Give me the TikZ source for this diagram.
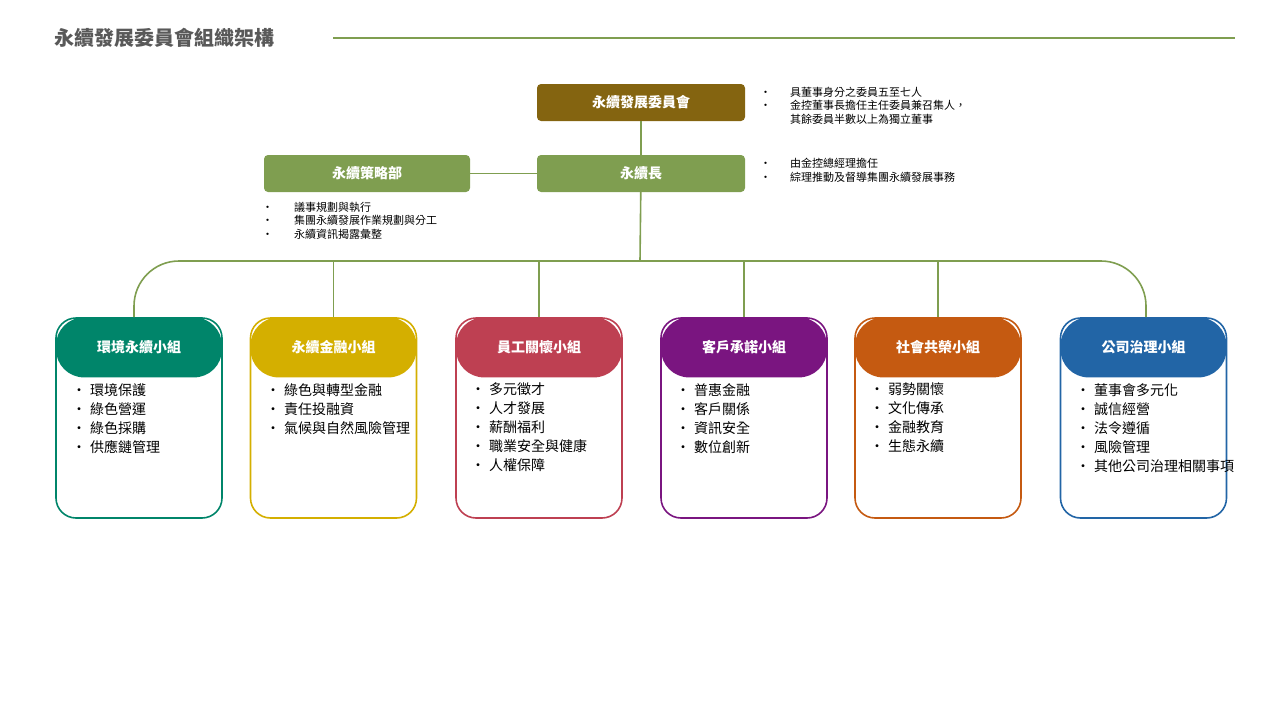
\documentclass[tikz,border=0pt]{standalone}
\usepackage{fontspec}
\setmainfont{Noto Sans CJK TC}
\newfontfamily\cjkb[BoldFont={Noto Sans CJK TC Bold}]{Noto Sans CJK TC}
\definecolor{tgray}{HTML}{595959}
\definecolor{brn}{HTML}{846410}
\definecolor{grn}{HTML}{7F9E50}
\definecolor{cA}{HTML}{00856A}
\definecolor{cB}{HTML}{D4AF00}
\definecolor{cC}{HTML}{BE4052}
\definecolor{cD}{HTML}{7A1580}
\definecolor{cE}{HTML}{C55A11}
\definecolor{cF}{HTML}{2265A6}
\tikzset{
 topbox/.style={rounded corners=4pt,minimum width=208pt,minimum height=37pt,text=white,font=\fontsize{14}{16}\selectfont\bfseries,inner sep=0pt},
 con/.style={grn,line width=1.6pt},
 note/.style={font=\fontsize{11}{13.5}\selectfont,align=left,anchor=north west,inner sep=0pt},
 body/.style={draw=#1,line width=1.6pt,rounded corners=20pt,fill=white,minimum width=166pt,minimum height=200pt,inner sep=0pt},
 head/.style={fill=#1,rounded corners=28pt,minimum width=166pt,minimum height=60pt,text=white,font=\fontsize{14}{16}\selectfont\bfseries,inner sep=0pt},
 items/.style={font=\fontsize{14}{19}\selectfont,align=left,anchor=north west,inner sep=0pt,text width=132pt},
}
\newcommand{\bl}[1]{\makebox[18pt][l]{•}\parbox[t]{118pt}{#1}\\}
\begin{document}
\begin{tikzpicture}[x=1pt,y=-1pt]
\useasboundingbox (0,0) rectangle (1280,720);
\node[anchor=west,text=tgray,font=\fontsize{20}{22}\selectfont\bfseries,inner sep=0pt] (title) at (54,38) {永續發展委員會組織架構};
\coordinate (tl) at (1235,38);
\draw[grn,line width=1.5pt] (333,38) -- (tl);
\node[topbox,fill=brn] (comm) at (641,102.5) {永續發展委員會};
\node[topbox,fill=grn] (chief) at (641,173.5) {永續長};
\node[topbox,fill=grn,minimum width=206pt] (strat) at (367,173.5) {永續策略部};
\draw[con] (comm) -- (chief);
\draw[con] (strat) -- (chief);
\node[note] (n1) at (760,87) {\makebox[30pt][l]{•}具董事身分之委員五至七人\\\makebox[30pt][l]{•}金控董事長擔任主任委員兼召集人，\\\makebox[30pt][l]{}其餘委員半數以上為獨立董事};
\node[note] (n2) at (760,158) {\makebox[30pt][l]{•}由金控總經理擔任\\\makebox[30pt][l]{•}綜理推動及督導集團永續發展事務};
\node[note] (n3) at (262,202) {\makebox[32pt][l]{•}議事規劃與執行\\\makebox[32pt][l]{•}集團永續發展作業規劃與分工\\\makebox[32pt][l]{•}永續資訊揭露彙整};
% groups
\foreach \n/\x/\c/\t in {A/139/cA/環境永續小組,B/333.5/cB/永續金融小組,C/539/cC/員工關懷小組,D/744/cD/客戶承諾小組,E/938/cE/社會共榮小組,F/1143.5/cF/公司治理小組}{
  \node[body=\c] (b\n) at (\x,418) {};
  \node[head=\c,anchor=north] (h\n) at (b\n.north) {\t};
}
\coordinate (bus) at (640,261);
\draw[con] (chief) -- (bus);
\draw[con,rounded corners=45pt] (hA.north -| 134,0) -- (134,261) -- (1146,261) -- (hF.north -| 1146,0);
\foreach \n in {B,C,D,E}{\draw[con] (hA.north -| h\n.north) ++(0,-57) -- (h\n.north);}
\node[items] (iA) at (72,383) {\bl{環境保護}\bl{綠色營運}\bl{綠色採購}\bl{供應鏈管理}};
\node[items] (iB) at (266,383) {\bl{綠色與轉型金融}\bl{責任投融資}\bl{氣候與自然風險管理}};
\node[items] (iC) at (471,383) {\bl{多元徵才}\bl{人才發展}\bl{薪酬福利}\bl{職業安全與健康}\bl{人權保障}};
\node[items] (iD) at (676,383) {\bl{普惠金融}\bl{客戶關係}\bl{資訊安全}\bl{數位創新}};
\node[items] (iE) at (870,383) {\bl{弱勢關懷}\bl{文化傳承}\bl{金融教育}\bl{生態永續}};
\node[items] (iF) at (1076,383) {\bl{董事會多元化}\bl{誠信經營}\bl{法令遵循}\bl{風險管理}\bl{其他公司治理相關事項}};
\end{tikzpicture}
\end{document}
